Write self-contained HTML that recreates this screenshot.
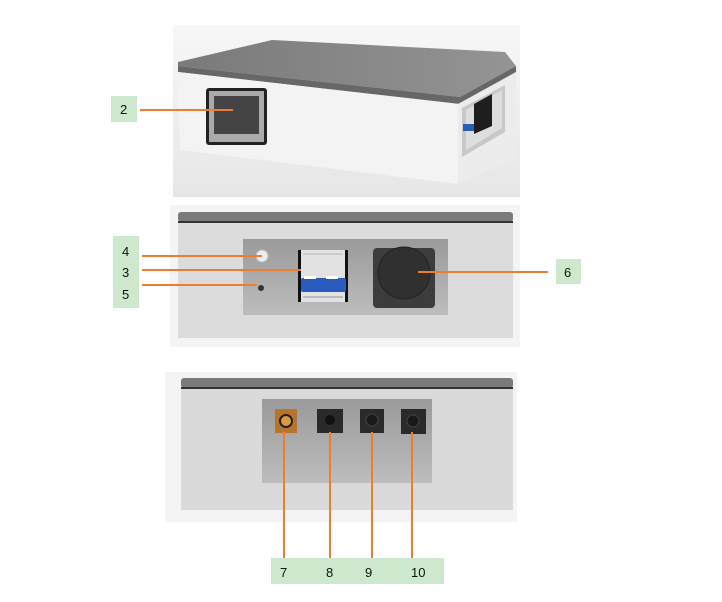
<!DOCTYPE html>
<html><head><meta charset="utf-8"><style>
html,body{margin:0;padding:0;background:#fff;width:722px;height:602px;overflow:hidden}
svg{display:block}
text{font-family:"Liberation Sans",sans-serif;font-size:13px;fill:#111}
</style></head><body>
<svg width="722" height="602" viewBox="0 0 722 602" xmlns="http://www.w3.org/2000/svg">
<defs>
<linearGradient id="bg1" x1="0" y1="0" x2="0" y2="1"><stop offset="0" stop-color="#f7f7f7"/><stop offset="1" stop-color="#e6e6e6"/></linearGradient>
<linearGradient id="lid" x1="0" y1="0" x2="1" y2="0"><stop offset="0" stop-color="#7a7a7a"/><stop offset="1" stop-color="#949494"/></linearGradient>
<linearGradient id="open" x1="0" y1="0" x2="0" y2="1"><stop offset="0" stop-color="#9a9a9a"/><stop offset="1" stop-color="#bdbdbd"/></linearGradient>
</defs>
<!-- Panel 1 -->
<rect x="173" y="25" width="347" height="172" fill="url(#bg1)"/>
<polygon points="178,62 272,40 505,52 516,66 460,97 178,66" fill="url(#lid)"/>
<polygon points="178,66 460,97 516,66 516,72 460,104 178,72" fill="#676767"/>
<polygon points="178,72 458,104 458,184 180,150" fill="#f3f3f3"/>
<polygon points="458,104 516,72 516,158 458,184" fill="#ececec"/>
<polygon points="462,108 505,85 505,132 462,157" fill="#c8c8c8"/>
<polygon points="466,110 502,90 502,128 466,150" fill="#dedede"/>
<polygon points="474,104 492,94 492,126 474,134" fill="#1e1e1e"/>
<rect x="463" y="124" width="11" height="7" fill="#2a5db8"/>
<rect x="206" y="88" width="61" height="57" rx="3" fill="#222"/>
<rect x="209" y="91" width="55" height="51" fill="#aaa"/>
<rect x="214" y="96" width="45" height="38" fill="#444"/>
<rect x="111" y="96" width="26" height="26" fill="#cde8cd"/>
<text x="120" y="114">2</text>
<line x1="140" y1="110" x2="233" y2="110" stroke="#ed7d31" stroke-width="2"/>
<!-- Panel 2 -->
<rect x="170" y="205" width="350" height="142" fill="#f4f4f4"/>
<rect x="178" y="212" width="335" height="10" rx="3" fill="#7a7a7a"/>
<rect x="178" y="221" width="335" height="2" fill="#333"/>
<rect x="178" y="223" width="335" height="115" fill="#dcdcdc"/>
<rect x="243" y="239" width="205" height="76" fill="url(#open)"/>
<rect x="300" y="250" width="47" height="52" fill="#e2e2e2"/>
<rect x="298" y="250" width="3" height="52" fill="#111"/><rect x="345" y="250" width="3" height="52" fill="#111"/>
<rect x="301" y="278" width="45" height="14" rx="2" fill="#2a5cc0"/>
<rect x="304" y="276" width="12" height="3" fill="#fff"/><rect x="326" y="276" width="12" height="3" fill="#fff"/>
<rect x="303" y="253" width="40" height="2" fill="#ccc"/><rect x="303" y="296" width="40" height="2" fill="#bbb"/>
<circle cx="262" cy="256" r="6" fill="#eee" stroke="#bbb"/>
<circle cx="261" cy="288" r="3" fill="#333"/>
<rect x="373" y="248" width="62" height="60" rx="4" fill="#3c3c3c"/>
<circle cx="404" cy="273" r="26" fill="#303030" stroke="#222"/>
<rect x="113" y="236" width="26" height="72" fill="#cde8cd"/>
<text x="122" y="256">4</text><text x="122" y="277">3</text><text x="122" y="299">5</text>
<line x1="142" y1="256" x2="262" y2="256" stroke="#ed7d31" stroke-width="2"/>
<line x1="142" y1="270" x2="301" y2="270" stroke="#ed7d31" stroke-width="2"/>
<line x1="142" y1="285" x2="257" y2="285" stroke="#ed7d31" stroke-width="2"/>
<line x1="418" y1="272" x2="548" y2="272" stroke="#ed7d31" stroke-width="2"/>
<rect x="556" y="259" width="25" height="25" fill="#cde8cd"/>
<text x="564" y="277">6</text>
<!-- Panel 3 -->
<rect x="165" y="372" width="352" height="150" fill="#f4f4f4"/>
<rect x="181" y="378" width="332" height="10" rx="3" fill="#7a7a7a"/>
<rect x="181" y="387" width="332" height="2" fill="#333"/>
<rect x="181" y="389" width="332" height="121" fill="#dadada"/>
<rect x="262" y="399" width="170" height="84" fill="url(#open)"/>
<rect x="275" y="409" width="22" height="24" fill="#b8742a"/>
<circle cx="286" cy="421" r="6" fill="#d89a40" stroke="#222" stroke-width="2"/>
<rect x="317" y="409" width="26" height="24" fill="#2a2a2a"/><circle cx="330" cy="420" r="5" fill="#111"/>
<rect x="360" y="409" width="24" height="24" fill="#2a2a2a"/><circle cx="372" cy="420" r="6" fill="#1a1a1a" stroke="#444"/>
<rect x="401" y="409" width="25" height="25" fill="#2a2a2a"/><circle cx="413" cy="421" r="6" fill="#1a1a1a" stroke="#444"/>
<g stroke="#ed7d31" stroke-width="2">
<line x1="284" y1="432" x2="284" y2="558"/><line x1="330" y1="432" x2="330" y2="558"/>
<line x1="372" y1="432" x2="372" y2="558"/><line x1="412" y1="432" x2="412" y2="558"/></g>
<rect x="271" y="558" width="173" height="26" fill="#cde8cd"/>
<text x="280" y="577">7</text><text x="326" y="577">8</text><text x="365" y="577">9</text><text x="411" y="577">10</text>
</svg>
</body></html>
